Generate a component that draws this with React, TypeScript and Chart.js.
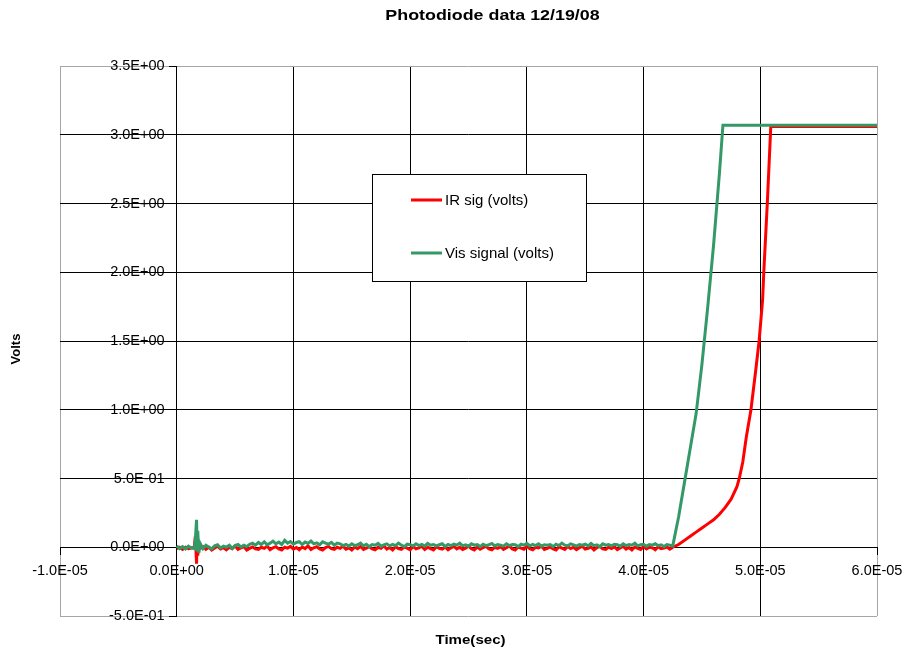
import React, { useEffect, useRef } from "react";
import { Chart, registerables } from "chart.js";

Chart.register(...registerables);

const chartTitle = "Photodiode data 12/19/08";
const xAxisTitle = "Time(sec)";
const yAxisTitle = "Volts";
const seriesNames = ["IR sig (volts)", "Vis signal (volts)"];
const seriesColors = ["#ff0000", "#339966"];

// x values are in microseconds; tick labels show seconds
const xTickValues = [-10, 0, 10, 20, 30, 40, 50, 60];
const xTickLabels = ["-1.0E-05", "0.0E+00", "1.0E-05", "2.0E-05", "3.0E-05", "4.0E-05", "5.0E-05", "6.0E-05"];
const yTickValues = [-0.5, 0, 0.5, 1, 1.5, 2, 2.5, 3, 3.5];
const yTickLabels = ["-5.0E-01", "0.0E+00", "5.0E-01", "1.0E+00", "1.5E+00", "2.0E+00", "2.5E+00", "3.0E+00", "3.5E+00"];

// start of record, including the trigger spike (µs)
const spikeTime = [0, 0.25, 0.5, 0.75, 1.0, 1.25, 1.5, 1.6, 1.7, 1.75, 1.8, 1.9];
const irSpike = [-0.01, 0.0, -0.015, 0.0, -0.01, -0.005, 0.0, 0.08, -0.12, 0.05, -0.06, 0.02];
const visSpike = [0.01, -0.01, 0.005, -0.012, 0.008, -0.005, -0.01, 0.06, 0.2, -0.02, 0.12, -0.04];

// baseline samples on the scope's 0.25 µs sample grid, from 2.0 µs to 42.5 µs
const baseStartUs = 2.0;
const sampleStepUs = 0.25;
const irBase = [
  -0.01, 0.005, -0.015, 0.0, -0.02, -0.005, 0.008, -0.012, -0.002, -0.018,
  0.0, -0.01, 0.01, -0.015, -0.005, 0.005, -0.02, -0.008, 0.002, -0.012,
  -0.015, 0.0, -0.008, 0.008, -0.018, -0.004, 0.004, -0.012, -0.02, 0.0,
  -0.006, 0.006, -0.014, -0.002, -0.018, 0.002, -0.01, 0.01, -0.016, -0.004,
  0.004, -0.012, -0.02, -0.002, 0.006, -0.01, -0.016, 0.0, -0.008, 0.008,
  -0.014, -0.004, -0.02, 0.002, -0.01, 0.006, -0.016, -0.006, 0.004, -0.012,
  -0.018, 0.0, -0.008, 0.01, -0.014, -0.002, -0.02, 0.004, -0.01, -0.016,
  0.002, -0.006, -0.018, 0.006, -0.012, -0.004, 0.008, -0.016, 0.0, -0.01,
  -0.02, 0.004, -0.008, -0.014, 0.002, -0.018, -0.004, 0.006, -0.012, 0.0,
  -0.016, -0.006, 0.008, -0.01, -0.02, 0.002, -0.014, -0.002, 0.006, -0.012,
  -0.018, 0.0, -0.008, 0.004, -0.016, -0.004, 0.01, -0.012, -0.02, 0.002,
  -0.006, -0.014, 0.006, -0.01, -0.018, 0.0, -0.004, 0.008, -0.016, -0.008,
  0.002, -0.012, -0.02, 0.004, -0.006, -0.016, 0.006, -0.01, 0.0, -0.018,
  -0.004, 0.008, -0.014, -0.008, 0.002, -0.02, -0.002, 0.006, -0.012, -0.016,
  0.0, -0.01, 0.004, -0.018, -0.006, 0.008, -0.014, -0.002, -0.02, 0.002,
  -0.008, -0.016, 0.006, -0.012, 0.0, -0.004, -0.018, 0.004, -0.01, -0.006,
  0.002, -0.014, 0.0,
];
const visBase = [
  0.03, -0.01, 0.015, 0.0, -0.012, 0.01, 0.018, -0.005, 0.008, 0.0,
  0.015, -0.008, 0.012, 0.02, 0.002, 0.015, 0.005, 0.022,
  0.03, 0.015, 0.035, 0.02, 0.04, 0.018, 0.03, 0.045, 0.025, 0.038,
  0.02, 0.05, 0.03, 0.042, 0.022, 0.035, 0.04, 0.02, 0.038, 0.028,
  0.045, 0.025, 0.032, 0.018, 0.04, 0.03, 0.022, 0.036, 0.015, 0.03,
  0.025, 0.012,
  0.02, 0.008, 0.025, 0.012, 0.018, 0.03, 0.01, 0.022, 0.005, 0.02,
  0.015, 0.028, 0.008, 0.018, 0.025, 0.01, 0.02, 0.012, 0.03, 0.015,
  0.005, 0.022, 0.018, 0.01, 0.025, 0.012, 0.02, 0.008, 0.028, 0.015,
  0.02, 0.01, 0.018, 0.025, 0.005, 0.02, 0.012, 0.022, 0.015, 0.03,
  0.01, 0.018, 0.008, 0.025, 0.015, 0.02, 0.005, 0.022, 0.012, 0.018,
  0.028, 0.01, 0.02, 0.015, 0.008, 0.025, 0.012, 0.02, 0.018, 0.005,
  0.022, 0.015, 0.028, 0.01, 0.02, 0.012, 0.025, 0.008, 0.018, 0.015,
  0.02, 0.005, 0.022, 0.012, 0.03, 0.015, 0.01, 0.025, 0.018, 0.008,
  0.02, 0.015, 0.022, 0.01, 0.028, 0.012, 0.018, 0.005, 0.025, 0.015,
  0.02, 0.01, 0.022, 0.018, 0.008, 0.025, 0.012, 0.02, 0.015, 0.03,
  0.01, 0.018, 0.022, 0.008, 0.02, 0.015, 0.025, 0.012, 0.018, 0.005,
  0.02, 0.015, 0.01,
];

// rise and saturation (µs, volts)
const irRiseTime = [43, 43.5, 44, 44.5, 45, 45.5, 46, 46.5, 47, 47.5, 48, 48.2, 48.5, 48.8, 49.2, 49.6, 49.9, 50.2, 50.3, 50.6, 50.9, 60];
const irRise = [0.02, 0.05, 0.08, 0.11, 0.14, 0.17, 0.2, 0.24, 0.29, 0.35, 0.44, 0.5, 0.62, 0.8, 1.0, 1.28, 1.5, 1.8, 2.0, 2.5, 3.06, 3.06];
const visRiseTime = [43, 43.5, 44, 44.5, 45, 45.5, 46, 46.5, 46.8, 60];
const visRise = [0.22, 0.47, 0.72, 0.97, 1.33, 1.75, 2.2, 2.72, 3.07, 3.07];

const buildPoints = (spikeV: number[], baseV: number[], riseT: number[], riseV: number[]) => [
  ...spikeTime.map((t, i) => ({ x: t, y: spikeV[i] })),
  ...baseV.map((v, i) => ({ x: baseStartUs + i * sampleStepUs, y: v })),
  ...riseT.map((t, i) => ({ x: t, y: riseV[i] })),
];

const FONT = "'Liberation Sans', Arial, sans-serif";

const drawStretched = (c: CanvasRenderingContext2D, text: string, cx: number, cy: number, sx: number) => {
  c.save();
  c.translate(cx, cy);
  c.scale(sx, 1);
  c.fillText(text, 0, 0);
  c.restore();
};

const textPlugin = {
  id: "excelTexts",
  afterDatasetsDraw(chart: any) {
    const c = chart.ctx as CanvasRenderingContext2D;
    const ca = chart.chartArea;
    c.save();
    // legend box
    const bx = 372.5, by = 174.5, bw = 214, bh = 107;
    c.fillStyle = "#ffffff";
    c.fillRect(bx, by, bw, bh);
    c.strokeStyle = "#000000";
    c.lineWidth = 1;
    c.strokeRect(bx, by, bw, bh);
    c.font = `15px ${FONT}`;
    c.textAlign = "left";
    c.textBaseline = "middle";
    const rows = [200, 253];
    seriesNames.forEach((name, i) => {
      c.strokeStyle = seriesColors[i];
      c.lineWidth = 3;
      c.beginPath();
      c.moveTo(411, rows[i]);
      c.lineTo(442, rows[i]);
      c.stroke();
      c.fillStyle = "#000";
      c.fillText(name, 445, rows[i] + 1);
    });
    // titles
    c.fillStyle = "#000";
    c.textAlign = "center";
    c.font = `bold 15px ${FONT}`;
    drawStretched(c, chartTitle, 492.5, 16, 1.19);
    c.font = `bold 13px ${FONT}`;
    drawStretched(c, xAxisTitle, 470.5, 640, 1.16);
    c.translate(16, (ca.top + ca.bottom) / 2 + 8);
    c.rotate(-Math.PI / 2);
    c.fillText(yAxisTitle, 0, 0);
    c.restore();
  },
};

export default function App() {
  const ref = useRef<HTMLCanvasElement>(null);
  useEffect(() => {
    document.body.style.margin = "0";
    const canvas = ref.current!;
    const edgeX = (ctx: any) =>
      ctx.tick && (ctx.tick.value === xTickValues[0] || ctx.tick.value === xTickValues[xTickValues.length - 1]) ? "#a6a6a6" : "#000000";
    const edgeY = (ctx: any) =>
      ctx.tick && (ctx.tick.value === yTickValues[0] || ctx.tick.value === yTickValues[yTickValues.length - 1]) ? "#a6a6a6" : "#000000";
    const chart = new Chart(canvas, {
      type: "line",
      data: {
        datasets: [
          {
            label: seriesNames[0],
            data: buildPoints(irSpike, irBase, irRiseTime, irRise),
            borderColor: seriesColors[0],
            backgroundColor: seriesColors[0],
            borderWidth: 3,
            pointRadius: 0,
            tension: 0,
            fill: false,
            order: 2,
          },
          {
            label: seriesNames[1],
            data: buildPoints(visSpike, visBase, visRiseTime, visRise),
            borderColor: seriesColors[1],
            backgroundColor: seriesColors[1],
            borderWidth: 3,
            pointRadius: 0,
            tension: 0,
            fill: false,
            order: 1,
          },
        ],
      },
      options: {
        responsive: false,
        animation: false,
        events: [],
        layout: { padding: { left: 60, top: 66, right: 28, bottom: 35 } },
        plugins: {
          legend: { display: false },
          title: { display: false },
          tooltip: { enabled: false },
        },
        scales: {
          x: {
            type: "linear",
            position: { y: 0 } as any,
            min: xTickValues[0],
            max: xTickValues[xTickValues.length - 1],
            ticks: {
              stepSize: 10,
              autoSkip: false,
              maxRotation: 0,
              color: "#000",
              padding: 8,
              font: { family: FONT, size: 14.5 },
              callback: (v: any) => {
                const i = xTickValues.indexOf(Number(v));
                return i >= 0 ? xTickLabels[i] : "";
              },
            },
            grid: { color: edgeX, lineWidth: 1, tickLength: 7, tickColor: "#000" },
            border: { display: true, color: "#000", width: 1 },
            afterFit: (s: any) => {
              s.height = 0;
              s.paddingLeft = 0;
              s.paddingRight = 0;
            },
          },
          y: {
            type: "linear",
            position: { x: 0 } as any,
            min: yTickValues[0],
            max: yTickValues[yTickValues.length - 1],
            ticks: {
              stepSize: 0.5,
              autoSkip: false,
              color: "#000",
              padding: 5,
              font: { family: FONT, size: 14.5 },
              callback: (v: any) => {
                const i = yTickValues.indexOf(Number(v));
                return i >= 0 ? yTickLabels[i] + "   " : "";
              },
            },
            grid: { color: edgeY, lineWidth: 1, tickLength: 7, tickColor: "#000" },
            border: { display: true, color: "#000", width: 1 },
            afterFit: (s: any) => {
              s.width = 0;
              s.paddingTop = 0;
              s.paddingBottom = 0;
            },
          },
        },
      } as any,
      plugins: [textPlugin],
    });
    return () => chart.destroy();
  }, []);
  return <canvas ref={ref} width={905} height={651} style={{ display: "block" }} />;
}
